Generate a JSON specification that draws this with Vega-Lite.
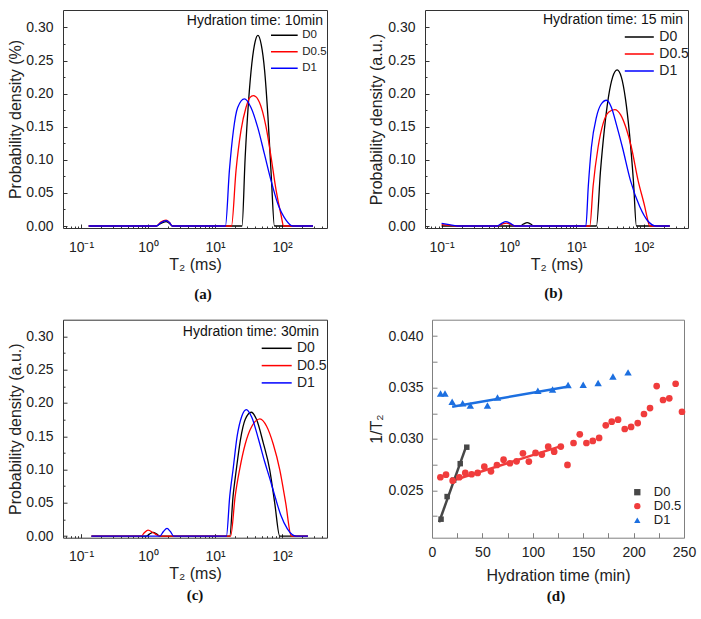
{
"$schema":"https://vega.github.io/schema/vega-lite/v6.json",
"background":"white",
"padding":{"left":7,"top":9,"right":0,"bottom":0},
"config":{
 "font":"Liberation Sans",
 "view":{"stroke":"#333333","strokeWidth":1},
 "axis":{"domain":false,"grid":false,"labelFont":"Liberation Sans","labelFontSize":14,"labelColor":"#222222","titleFont":"Liberation Sans","titleFontSize":16,"titleFontWeight":"normal","titleColor":"#222222","tickColor":"#333333","tickWidth":1,"labelFlush":false,"labelOverlap":false,"tickCount":100},
 "legend":{"labelFont":"Liberation Sans","labelColor":"#222222","padding":0},
 "title":{"font":"Liberation Serif","fontSize":15,"fontWeight":"bold","color":"#111111","orient":"bottom","anchor":"middle","offset":9}
},
"datasets":{
"a":[
{"s":"D0","t":0.13,"p":0},{"s":"D0","t":1.33,"p":0},{"s":"D0","t":1.55,"p":0.004},{"s":"D0","t":1.86,"p":0.0065},{"s":"D0","t":2.1,"p":0.004},{"s":"D0","t":2.3,"p":0},{"s":"D0","t":25.3,"p":0},{"s":"D0","t":28.2,"p":0.104},{"s":"D0","t":31.6,"p":0.187},{"s":"D0","t":35.5,"p":0.246},{"s":"D0","t":39.8,"p":0.279},{"s":"D0","t":43.7,"p":0.288},{"s":"D0","t":49.0,"p":0.274},{"s":"D0","t":55.0,"p":0.235},{"s":"D0","t":61.7,"p":0.165},{"s":"D0","t":69.2,"p":0.075},{"s":"D0","t":77.1,"p":0},{"s":"D0","t":290,"p":0},
{"s":"D0.5","t":0.13,"p":0},{"s":"D0.5","t":1.33,"p":0},{"s":"D0.5","t":1.55,"p":0.006},{"s":"D0.5","t":1.86,"p":0.009},{"s":"D0.5","t":2.1,"p":0.005},{"s":"D0.5","t":2.3,"p":0},{"s":"D0.5","t":17.6,"p":0},{"s":"D0.5","t":20.6,"p":0.084},{"s":"D0.5","t":24.4,"p":0.144},{"s":"D0.5","t":29.0,"p":0.179},{"s":"D0.5","t":33.1,"p":0.194},{"s":"D0.5","t":37.4,"p":0.197},{"s":"D0.5","t":46.0,"p":0.187},{"s":"D0.5","t":57.7,"p":0.15},{"s":"D0.5","t":68.5,"p":0.105},{"s":"D0.5","t":81.3,"p":0.055},{"s":"D0.5","t":96.6,"p":0.017},{"s":"D0.5","t":105.9,"p":0},{"s":"D0.5","t":290,"p":0},
{"s":"D1","t":0.13,"p":0},{"s":"D1","t":1.33,"p":0},{"s":"D1","t":1.55,"p":0.005},{"s":"D1","t":1.86,"p":0.008},{"s":"D1","t":2.1,"p":0.005},{"s":"D1","t":2.3,"p":0},{"s":"D1","t":14.3,"p":0},{"s":"D1","t":16.4,"p":0.084},{"s":"D1","t":18.8,"p":0.144},{"s":"D1","t":21.8,"p":0.179},{"s":"D1","t":27.5,"p":0.192},{"s":"D1","t":34.4,"p":0.179},{"s":"D1","t":43.4,"p":0.149},{"s":"D1","t":54.6,"p":0.109},{"s":"D1","t":68.5,"p":0.069},{"s":"D1","t":86.3,"p":0.034},{"s":"D1","t":114.8,"p":0.009},{"s":"D1","t":144.5,"p":0},{"s":"D1","t":290,"p":0}
],
"b":[
{"s":"D0","t":0.1,"p":0},{"s":"D0","t":1.46,"p":0},{"s":"D0","t":1.65,"p":0.003},{"s":"D0","t":1.87,"p":0.005},{"s":"D0","t":2.1,"p":0.003},{"s":"D0","t":2.35,"p":0},{"s":"D0","t":19.95,"p":0},{"s":"D0","t":22.9,"p":0.083},{"s":"D0","t":26.3,"p":0.148},{"s":"D0","t":30.2,"p":0.196},{"s":"D0","t":34.7,"p":0.225},{"s":"D0","t":40.5,"p":0.236},{"s":"D0","t":46.8,"p":0.225},{"s":"D0","t":53.7,"p":0.193},{"s":"D0","t":61.7,"p":0.14},{"s":"D0","t":70.8,"p":0.067},{"s":"D0","t":78.3,"p":0},{"s":"D0","t":245,"p":0},
{"s":"D0.5","t":0.1,"p":0.002},{"s":"D0.5","t":0.13,"p":0.001},{"s":"D0.5","t":0.17,"p":0},{"s":"D0.5","t":0.67,"p":0},{"s":"D0.5","t":0.8,"p":0.003},{"s":"D0.5","t":0.92,"p":0.0045},{"s":"D0.5","t":1.05,"p":0.003},{"s":"D0.5","t":1.23,"p":0},{"s":"D0.5","t":15.9,"p":0},{"s":"D0.5","t":17.8,"p":0.06},{"s":"D0.5","t":21.1,"p":0.119},{"s":"D0.5","t":25.1,"p":0.155},{"s":"D0.5","t":30.2,"p":0.172},{"s":"D0.5","t":37.4,"p":0.176},{"s":"D0.5","t":45.7,"p":0.168},{"s":"D0.5","t":55.0,"p":0.148},{"s":"D0.5","t":65.9,"p":0.119},{"s":"D0.5","t":82.8,"p":0.069},{"s":"D0.5","t":104.3,"p":0.029},{"s":"D0.5","t":114.8,"p":0.01},{"s":"D0.5","t":123.6,"p":0},{"s":"D0.5","t":245,"p":0},
{"s":"D1","t":0.1,"p":0.004},{"s":"D1","t":0.13,"p":0.002},{"s":"D1","t":0.17,"p":0},{"s":"D1","t":0.67,"p":0},{"s":"D1","t":0.78,"p":0.004},{"s":"D1","t":0.9,"p":0.0065},{"s":"D1","t":1.05,"p":0.004},{"s":"D1","t":1.23,"p":0},{"s":"D1","t":13.9,"p":0},{"s":"D1","t":15.1,"p":0.06},{"s":"D1","t":16.8,"p":0.119},{"s":"D1","t":20.0,"p":0.165},{"s":"D1","t":23.4,"p":0.184},{"s":"D1","t":28.1,"p":0.19},{"s":"D1","t":33.1,"p":0.18},{"s":"D1","t":39.8,"p":0.152},{"s":"D1","t":48.5,"p":0.119},{"s":"D1","t":63.8,"p":0.069},{"s":"D1","t":87.9,"p":0.029},{"s":"D1","t":114.8,"p":0.008},{"s":"D1","t":154.9,"p":0},{"s":"D1","t":245,"p":0}
],
"c":[
{"s":"D0","t":0.143,"p":0},{"s":"D0","t":0.94,"p":0},{"s":"D0","t":1.05,"p":0.003},{"s":"D0","t":1.19,"p":0.0055},{"s":"D0","t":1.35,"p":0.003},{"s":"D0","t":1.5,"p":0},{"s":"D0","t":16.6,"p":0},{"s":"D0","t":18.6,"p":0.06},{"s":"D0","t":20.8,"p":0.1},{"s":"D0","t":24.0,"p":0.145},{"s":"D0","t":28.2,"p":0.175},{"s":"D0","t":34.8,"p":0.186},{"s":"D0","t":41.7,"p":0.175},{"s":"D0","t":52.5,"p":0.14},{"s":"D0","t":65.5,"p":0.1},{"s":"D0","t":77.8,"p":0.05},{"s":"D0","t":92.5,"p":0},{"s":"D0","t":244,"p":0},
{"s":"D0.5","t":0.143,"p":0},{"s":"D0.5","t":0.79,"p":0},{"s":"D0.5","t":0.88,"p":0.005},{"s":"D0.5","t":1.0,"p":0.009},{"s":"D0.5","t":1.2,"p":0.005},{"s":"D0.5","t":1.5,"p":0},{"s":"D0.5","t":17.1,"p":0},{"s":"D0.5","t":20.0,"p":0.06},{"s":"D0.5","t":23.3,"p":0.1},{"s":"D0.5","t":28.2,"p":0.138},{"s":"D0.5","t":35.5,"p":0.165},{"s":"D0.5","t":46.8,"p":0.176},{"s":"D0.5","t":58.9,"p":0.165},{"s":"D0.5","t":74.1,"p":0.138},{"s":"D0.5","t":92.5,"p":0.1},{"s":"D0.5","t":113.5,"p":0.05},{"s":"D0.5","t":137.7,"p":0},{"s":"D0.5","t":244,"p":0},
{"s":"D1","t":0.143,"p":0},{"s":"D1","t":1.5,"p":0},{"s":"D1","t":1.7,"p":0.007},{"s":"D1","t":1.92,"p":0.0115},{"s":"D1","t":2.15,"p":0.007},{"s":"D1","t":2.42,"p":0},{"s":"D1","t":14.8,"p":0},{"s":"D1","t":16.6,"p":0.06},{"s":"D1","t":18.6,"p":0.1},{"s":"D1","t":21.4,"p":0.15},{"s":"D1","t":25.1,"p":0.18},{"s":"D1","t":29.3,"p":0.19},{"s":"D1","t":35.5,"p":0.178},{"s":"D1","t":44.7,"p":0.145},{"s":"D1","t":55.0,"p":0.112},{"s":"D1","t":65.5,"p":0.087},{"s":"D1","t":79.4,"p":0.058},{"s":"D1","t":95.5,"p":0.032},{"s":"D1","t":120.2,"p":0.011},{"s":"D1","t":163.3,"p":0},{"s":"D1","t":244,"p":0}
],
"d":[
{"s":"D0","t":9,"v":0.0222},{"s":"D0","t":15,"v":0.0244},{"s":"D0","t":21.5,"v":0.026},{"s":"D0","t":28,"v":0.0276},{"s":"D0","t":34.5,"v":0.0292},
{"s":"D0.5","t":8.3,"v":0.02628},{"s":"D0.5","t":13.9,"v":0.02653},{"s":"D0.5","t":20.5,"v":0.02595},{"s":"D0.5","t":27.1,"v":0.02628},{"s":"D0.5","t":33,"v":0.0267},{"s":"D0.5","t":39.3,"v":0.02657},{"s":"D0.5","t":45.3,"v":0.0267},{"s":"D0.5","t":51.9,"v":0.02731},{"s":"D0.5","t":58.5,"v":0.02686},{"s":"D0.5","t":64.4,"v":0.02747},{"s":"D0.5","t":71,"v":0.02799},{"s":"D0.5","t":77.3,"v":0.02764},{"s":"D0.5","t":83.9,"v":0.02783},{"s":"D0.5","t":90.2,"v":0.02861},{"s":"D0.5","t":96.1,"v":0.0278},{"s":"D0.5","t":102.7,"v":0.02864},{"s":"D0.5","t":109,"v":0.02848},{"s":"D0.5","t":115.3,"v":0.02925},{"s":"D0.5","t":121.2,"v":0.02877},{"s":"D0.5","t":127.8,"v":0.02926},{"s":"D0.5","t":134.4,"v":0.02748},{"s":"D0.5","t":140.4,"v":0.02961},{"s":"D0.5","t":146.6,"v":0.03045},{"s":"D0.5","t":153.2,"v":0.02961},{"s":"D0.5","t":159.5,"v":0.02981},{"s":"D0.5","t":165.8,"v":0.0301},{"s":"D0.5","t":172.4,"v":0.03133},{"s":"D0.5","t":178.3,"v":0.03168},{"s":"D0.5","t":184.6,"v":0.03188},{"s":"D0.5","t":191.2,"v":0.03097},{"s":"D0.5","t":197.5,"v":0.03117},{"s":"D0.5","t":204.1,"v":0.03155},{"s":"D0.5","t":210.3,"v":0.03243},{"s":"D0.5","t":216.3,"v":0.03301},{"s":"D0.5","t":222.9,"v":0.03515},{"s":"D0.5","t":229.2,"v":0.03379},{"s":"D0.5","t":235.4,"v":0.03395},{"s":"D0.5","t":241.7,"v":0.03537},{"s":"D0.5","t":248,"v":0.03265},
{"s":"D1","t":8.5,"v":0.03443},{"s":"D1","t":12.9,"v":0.03443},{"s":"D1","t":20,"v":0.03362},{"s":"D1","t":30.4,"v":0.03348},{"s":"D1","t":38,"v":0.03325},{"s":"D1","t":55,"v":0.03325},{"s":"D1","t":65,"v":0.03403},{"s":"D1","t":105,"v":0.03469},{"s":"D1","t":119.6,"v":0.03482},{"s":"D1","t":135,"v":0.03525},{"s":"D1","t":150,"v":0.03528},{"s":"D1","t":164.8,"v":0.03544},{"s":"D1","t":179.5,"v":0.03608},{"s":"D1","t":194.5,"v":0.03648}
],
"dfit":[
{"s":"D0","t":7,"v":0.0219},{"s":"D0","t":34,"v":0.0293},
{"s":"D0.5","t":19,"v":0.0259},{"s":"D0.5","t":128,"v":0.0293},
{"s":"D1","t":20,"v":0.03313},{"s":"D1","t":137,"v":0.03513}
]
},
"concat":[
{
 "width":264,"height":218,
 "title":{"text":"(a)","dx":8,"dy":6},
 "layer":[
  {"data":{"name":"a"},"mark":{"type":"line","strokeWidth":1.3,"interpolate":"monotone"},
   "encoding":{
    "x":{"field":"t","type":"quantitative","scale":{"type":"log","domain":[0.0538,469.6],"nice":false},
      "axis":{"title":"T₂ (ms)","tickCount":100,"values":[0.06,0.07,0.08,0.09,0.1,0.2,0.3,0.4,0.5,0.6,0.7,0.8,0.9,1,2,3,4,5,6,7,8,9,10,20,30,40,50,60,70,80,90,100,200,300,400],
       "labelExpr":"datum.value == 0.1 ? '10⁻¹' : datum.value == 1 ? '10⁰' : datum.value == 10 ? '10¹' : datum.value == 100 ? '10²' : ''",
       "tickSize":{"condition":{"test":"datum.value == 0.1 || datum.value == 1 || datum.value == 10 || datum.value == 100","value":-4},"value":-2},
       "labelPadding":16,"titlePadding":0}},
    "y":{"field":"p","type":"quantitative","scale":{"domain":[-0.003,0.3264],"nice":false,"zero":false},
      "axis":{"title":"Probability density (%)","tickCount":100,"values":[0,0.025,0.05,0.075,0.1,0.125,0.15,0.175,0.2,0.225,0.25,0.275,0.3],"format":".2f",
       "labelExpr":"abs(datum.value*20 - round(datum.value*20)) < 0.001 ? datum.label : ''",
       "tickSize":{"condition":{"test":"abs(datum.value*20 - round(datum.value*20)) < 0.001","value":-4},"value":-2},
       "labelPadding":14,"titlePadding":2}},
    "color":{"field":"s","type":"nominal","scale":{"domain":["D0","D0.5","D1"],"range":["#000000","#ff0000","#0000ff"]},
      "legend":{"title":null,"orient":"none","legendX":215.6,"legendY":19.5,"symbolType":"M-3,0H3","symbolSize":79,"symbolStrokeWidth":1.5,"labelFontSize":11.5,"labelOffset":12.2,"rowPadding":3.5}}
   }},
  {"data":{"values":[{}]},"mark":{"type":"text","align":"right","baseline":"middle","fontSize":14,"font":"Liberation Sans","color":"#111111"},
   "encoding":{"x":{"datum":409},"y":{"datum":0.31},"text":{"value":"Hydration time: 10min"}}}
 ]
},
{
 "width":263,"height":218,
 "title":{"text":"(b)","dx":-3,"dy":5},
 "layer":[
  {"data":{"name":"b"},"mark":{"type":"line","strokeWidth":1.3,"interpolate":"monotone"},
   "encoding":{
    "x":{"field":"t","type":"quantitative","scale":{"type":"log","domain":[0.0567,457],"nice":false},
      "axis":{"title":"T₂ (ms)","tickCount":100,"values":[0.06,0.07,0.08,0.09,0.1,0.2,0.3,0.4,0.5,0.6,0.7,0.8,0.9,1,2,3,4,5,6,7,8,9,10,20,30,40,50,60,70,80,90,100,200,300,400],
       "labelExpr":"datum.value == 0.1 ? '10⁻¹' : datum.value == 1 ? '10⁰' : datum.value == 10 ? '10¹' : datum.value == 100 ? '10²' : ''",
       "tickSize":{"condition":{"test":"datum.value == 0.1 || datum.value == 1 || datum.value == 10 || datum.value == 100","value":-4},"value":-2},
       "labelPadding":16,"titlePadding":0}},
    "y":{"field":"p","type":"quantitative","scale":{"domain":[-0.003,0.3264],"nice":false,"zero":false},
      "axis":{"title":"Probability density (a.u.)","tickCount":100,"values":[0,0.025,0.05,0.075,0.1,0.125,0.15,0.175,0.2,0.225,0.25,0.275,0.3],"format":".2f",
       "labelExpr":"abs(datum.value*20 - round(datum.value*20)) < 0.001 ? datum.label : ''",
       "tickSize":{"condition":{"test":"abs(datum.value*20 - round(datum.value*20)) < 0.001","value":-4},"value":-2},
       "labelPadding":14,"titlePadding":3}},
    "color":{"field":"s","type":"nominal","scale":{"domain":["D0","D0.5","D1"],"range":["#000000","#ff0000","#0000ff"]},
      "legend":{"title":null,"orient":"none","legendX":207.3,"legendY":20,"symbolType":"M-3,0H3","symbolSize":93.5,"symbolStrokeWidth":1.5,"labelFontSize":14,"labelOffset":13,"rowPadding":3}}
   }},
  {"data":{"values":[{}]},"mark":{"type":"text","align":"right","baseline":"middle","fontSize":14,"font":"Liberation Sans","color":"#111111"},
   "encoding":{"x":{"datum":385},"y":{"datum":0.311},"text":{"value":"Hydration time: 15 min"}}}
 ]
},
{
 "width":264,"height":218,
 "title":{"text":"(c)","dx":0,"dy":-3},
 "layer":[
  {"data":{"name":"c"},"mark":{"type":"line","strokeWidth":1.3,"interpolate":"monotone"},
   "encoding":{
    "x":{"field":"t","type":"quantitative","scale":{"type":"log","domain":[0.0538,469.6],"nice":false},
      "axis":{"title":"T₂ (ms)","tickCount":100,"values":[0.06,0.07,0.08,0.09,0.1,0.2,0.3,0.4,0.5,0.6,0.7,0.8,0.9,1,2,3,4,5,6,7,8,9,10,20,30,40,50,60,70,80,90,100,200,300,400],
       "labelExpr":"datum.value == 0.1 ? '10⁻¹' : datum.value == 1 ? '10⁰' : datum.value == 10 ? '10¹' : datum.value == 100 ? '10²' : ''",
       "tickSize":{"condition":{"test":"datum.value == 0.1 || datum.value == 1 || datum.value == 10 || datum.value == 100","value":-4},"value":-2},
       "labelPadding":16,"titlePadding":0}},
    "y":{"field":"p","type":"quantitative","scale":{"domain":[-0.0024,0.325],"nice":false,"zero":false},
      "axis":{"title":"Probability density (a.u.)","tickCount":100,"values":[0,0.025,0.05,0.075,0.1,0.125,0.15,0.175,0.2,0.225,0.25,0.275,0.3],"format":".2f",
       "labelExpr":"abs(datum.value*20 - round(datum.value*20)) < 0.001 ? datum.label : ''",
       "tickSize":{"condition":{"test":"abs(datum.value*20 - round(datum.value*20)) < 0.001","value":-4},"value":-2},
       "labelPadding":14,"titlePadding":2}},
    "color":{"field":"s","type":"nominal","scale":{"domain":["D0","D0.5","D1"],"range":["#000000","#ff0000","#0000ff"]},
      "legend":{"title":null,"orient":"none","legendX":206.7,"legendY":21.6,"symbolType":"M-3,0H3","symbolSize":100,"symbolStrokeWidth":1.5,"labelFontSize":14,"labelOffset":13.3,"rowPadding":3.3}}
   }},
  {"data":{"values":[{}]},"mark":{"type":"text","align":"right","baseline":"middle","fontSize":14,"font":"Liberation Sans","color":"#111111"},
   "encoding":{"x":{"datum":357},"y":{"datum":0.307},"text":{"value":"Hydration time: 30min"}}}
 ]
},
{
 "width":252,"height":218,
 "view":{"stroke":"#808080"},
 "title":{"text":"(d)","dx":-2,"dy":-4},
 "layer":[
  {"data":{"name":"dfit"},"mark":{"type":"line","strokeWidth":2.5},
   "encoding":{
    "x":{"field":"t","type":"quantitative","scale":{"domain":[0,250],"nice":false,"zero":false},
      "axis":{"title":"Hydration time (min)","tickCount":100,"values":[0,25,50,75,100,125,150,175,200,225,250],"labelExpr":"datum.value % 50 === 0 ? datum.label : ''","tickSize":-5,"tickColor":"#808080","labelPadding":13,"titlePadding":8}},
    "y":{"field":"v","type":"quantitative","scale":{"domain":[0.0204,0.0416],"nice":false,"zero":false},
      "axis":{"title":"1/T₂","tickCount":100,"values":[0.0225,0.025,0.0275,0.03,0.0325,0.035,0.0375,0.04],"format":".3f","labelExpr":"abs(datum.value*200 - round(datum.value*200)) < 0.001 ? datum.label : ''","tickSize":-5,"tickColor":"#808080","labelPadding":14,"titlePadding":3}},
    "detail":{"field":"s"},
    "color":{"condition":[{"test":"datum.s === 'D0'","value":"#474747"},{"test":"datum.s === 'D0.5'","value":"#f03c3c"}],"value":"#1c6fe0"}
   }},
  {"data":{"name":"d"},"mark":{"type":"point","filled":true,"opacity":1},
   "encoding":{
    "x":{"field":"t","type":"quantitative"},
    "y":{"field":"v","type":"quantitative"},
    "size":{"condition":[{"test":"datum.s === 'D0'","value":30},{"test":"datum.s === 'D1'","value":55}],"value":45},
    "color":{"field":"s","type":"nominal","scale":{"domain":["D0","D0.5","D1"],"range":["#474747","#f03c3c","#1c6fe0"]},
      "legend":{"title":null,"orient":"none","legendX":198.8,"legendY":166,"labelFontSize":13,"labelOffset":10,"rowPadding":0,"symbolSize":40}},
    "shape":{"field":"s","type":"nominal","scale":{"domain":["D0","D0.5","D1"],"range":["square","circle","triangle-up"]},
      "legend":{"title":null,"orient":"none","legendX":198.8,"legendY":166,"labelFontSize":13,"labelOffset":10,"rowPadding":0,"symbolSize":40}}
   }}
 ]
}
],
"columns":2,
"align":"none",
"spacing":{"row":15.7,"column":40},
"resolve":{"scale":{"color":"independent","shape":"independent"},"legend":{"color":"independent","shape":"independent"}}
}
